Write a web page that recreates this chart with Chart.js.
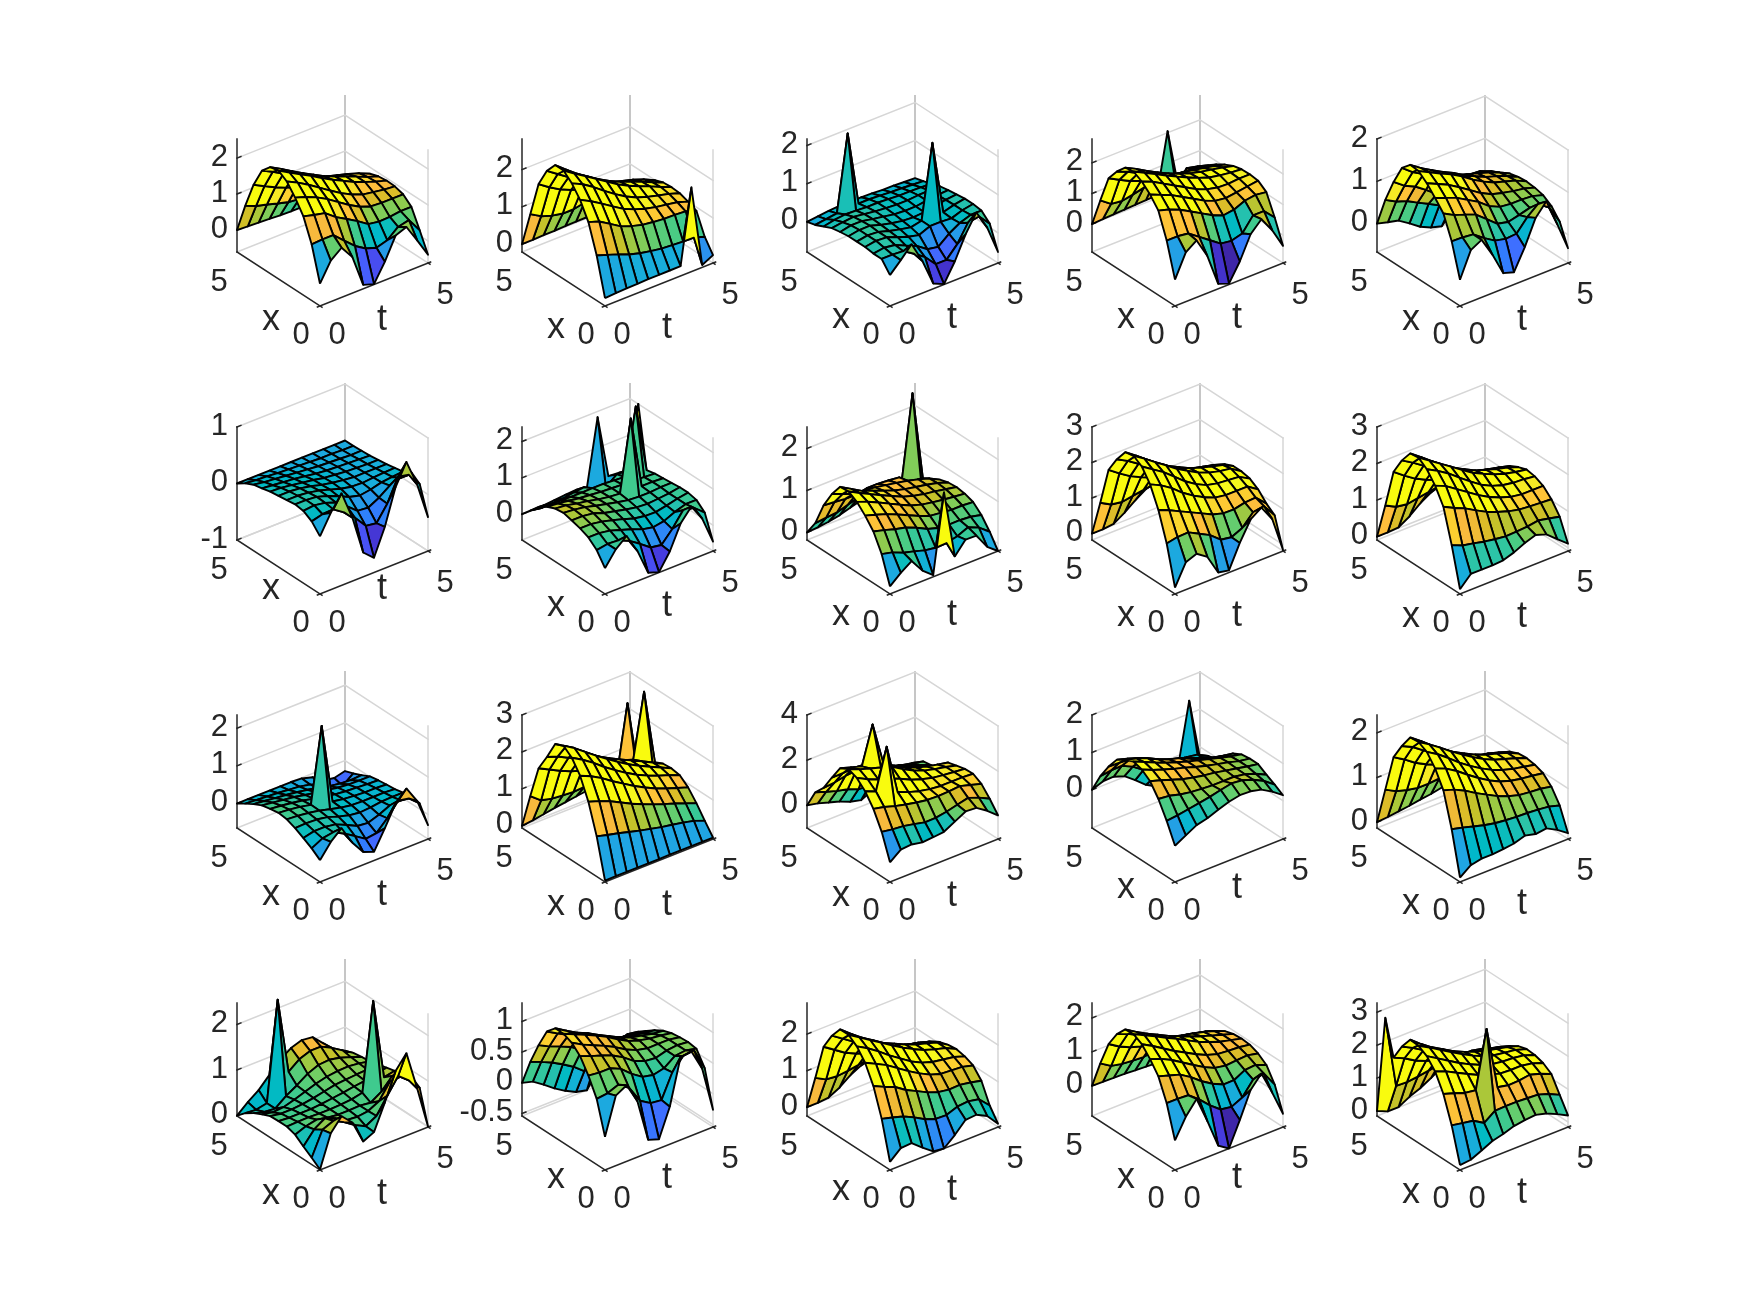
<!DOCTYPE html>
<html>
<head>
<meta charset="utf-8">
<title>Surface grid</title>
<script src="https://cdn.jsdelivr.net/npm/chart.js@4"></script>
<style>
  html, body { margin: 0; background: #fff; }
  #page { position: relative; width: 1750px; height: 1313px; overflow: hidden; }
  canvas { position: absolute; }
</style>
</head>
<body>
<div id="page"></div>
<script>
// grid axes
const xValues = [0, 0.5, 1, 1.5, 2, 2.5, 3, 3.5, 4, 4.5, 5]
const tValues = [0, 0.5, 1, 1.5, 2, 2.5, 3, 3.5, 4, 4.5, 5]

// surface heights, one row per x, one column per t
const z11 = [
  [.01,.53,.77,.39,-.5,-.6,-.1,.51,.63,.14,-.38],
  [.95,.97,.97,.7,.43,.24,.14,.23,.48,.55,.15],
  [1.58,1.5,1.43,1.2,1.03,.85,.65,.6,.61,.65,.65],
  [1.95,1.85,1.72,1.55,1.35,1.15,.98,.87,.85,.85,.85],
  [2.25,2.1,1.92,1.72,1.52,1.33,1.17,1.05,1,.95,.92],
  [2.4,2.23,2.06,1.9,1.72,1.55,1.4,1.25,1.13,1.02,.93],
  [2.35,2.18,2,1.82,1.66,1.5,1.37,1.25,1.13,1,.9],
  [2.1,1.95,1.78,1.6,1.45,1.32,1.22,1.14,1.05,.95,.82],
  [1.56,1.4,1.25,1.12,1.02,.95,.92,.9,.85,.77,.62],
  [.83,.7,.62,.53,.45,.42,.42,.42,.4,.32,.25],
  [0,-.02,-.03,-.05,-.07,-.08,-.08,-.06,-.05,-.03,-.02],
]
const z12 = [
  [0,.02,.03,.04,.05,.05,.05,.05,2.05,-.15,0],
  [1,.9,.8,.68,.6,.54,.49,.47,.45,.44,.35],
  [1.75,1.65,1.47,1.29,1.18,1.1,1.06,1.03,1.02,1,.9],
  [2.2,2.05,1.87,1.68,1.5,1.37,1.27,1.2,1.15,1.1,1],
  [2.5,2.36,2.17,1.95,1.75,1.57,1.43,1.33,1.25,1.18,1.08],
  [2.7,2.5,2.32,2.13,1.94,1.75,1.6,1.47,1.35,1.22,1.1],
  [2.7,2.46,2.24,2.05,1.86,1.7,1.56,1.45,1.33,1.2,1.08],
  [2.4,2.2,2,1.82,1.65,1.5,1.4,1.32,1.24,1.13,1],
  [1.9,1.7,1.53,1.4,1.29,1.2,1.14,1.1,1.05,.95,.82],
  [.95,.78,.68,.62,.62,.68,.72,.72,.65,.52,.38],
  [0,0,.01,.01,.02,.03,.03,.03,.02,.02,0],
]
const z13 = [
  [.02,.3,.6,.05,-.65,-.78,-.3,.3,.76,.25,-.5],
  [.3,.3,.28,.1,-.1,-.4,-.4,-.1,.35,.4,.1],
  [.3,.34,.3,.17,.05,-.15,-.2,.03,.2,.3,.3],
  [.33,.38,.36,.25,.15,.08,.2,.2,.18,.28,.33],
  [.33,.38,.36,.27,.2,.14,.2,2.13,.2,.28,.33],
  [.33,.38,.38,.29,.22,.17,.15,.17,.22,.27,.3],
  [.3,.36,.36,.3,.25,.2,.18,.18,.22,.25,.27],
  [.26,.3,.33,.29,.25,.22,.2,.2,.22,.23,.23],
  [.16,.22,.25,.24,.22,.22,.2,.18,.18,.17,.15],
  [.06,.1,.14,2.12,.17,.17,.15,.13,.12,.1,.08],
  [0,.03,.06,.08,.08,.08,.07,.05,.05,.03,.02],
]
const z14 = [
  [-.05,.7,.95,.3,-.75,-.88,-.3,.45,.8,.3,-.35],
  [1.05,1.05,1,.75,.5,.25,.2,.3,.75,.75,.4],
  [1.85,1.75,1.6,1.4,1.2,1,.85,.9,1.05,1.1,1.05],
  [2.2,2.05,1.9,1.7,1.5,1.3,1.15,1.1,1.15,1.2,1.25],
  [2.45,2.3,2.1,1.9,1.7,1.5,1.35,1.27,1.25,1.28,1.28],
  [2.6,2.42,2.24,2.05,1.87,1.7,1.55,1.42,1.35,1.3,1.27],
  [2.55,2.37,2.16,1.97,1.8,1.65,1.52,1.43,1.36,1.29,1.2],
  [2.25,2.1,1.92,1.74,1.58,1.45,1.37,1.3,1.24,1.16,1.07],
  [1.85,1.66,1.48,1.35,1.25,1.17,1.12,1.08,1.05,.98,.9],
  [.95,.7,.65,.72,.8,.87,.4,.45,.88,.8,.7],
  [0,.02,.04,.05,.07,.08,.1,2.05,.1,.06,.02],
]
const z15 = [
  [-.05,.55,.69,.24,-.3,-.38,.11,.7,.99,.35,-.32],
  [.73,.72,.69,.5,.34,.28,.3,.59,.8,.62,.18],
  [1.26,1.12,1.03,.93,.72,.51,.45,.51,.58,.55,.42],
  [1.5,1.4,1.3,1.15,1,.8,.68,.65,.65,.63,.55],
  [1.72,1.6,1.48,1.32,1.15,.98,.85,.78,.72,.68,.6],
  [1.88,1.75,1.62,1.5,1.35,1.17,1.02,.9,.82,.74,.62],
  [1.9,1.72,1.57,1.43,1.3,1.15,1.02,.9,.82,.72,.6],
  [1.7,1.5,1.35,1.22,1.12,1.02,.94,.86,.78,.68,.55],
  [1.24,1.05,.93,.75,.55,.55,.62,.7,.68,.58,.42],
  [.69,.55,.46,.32,.19,.05,-.12,.1,.25,.28,.22],
  [0,-.07,-.13,-.3,-.48,-.6,-.67,-.4,-.15,0,.05],
]
const z21 = [
  [.02,.36,.63,.12,-.57,-.74,-.27,.36,.73,.25,-.4],
  [.19,.24,.25,.12,-.05,-.27,-.3,-.03,.37,.33,.09],
  [.28,.3,.27,.2,.06,-.1,-.12,-.02,.12,.18,.2],
  [.3,.3,.28,.22,.14,.05,0,.03,.08,.1,.12],
  [.28,.28,.26,.22,.16,.1,.06,.05,.07,.08,.09],
  [.26,.26,.24,.2,.15,.11,.08,.06,.06,.06,.06],
  [.24,.23,.2,.17,.14,.1,.08,.06,.05,.04,.04],
  [.2,.18,.16,.14,.11,.08,.06,.05,.04,.03,.02],
  [.17,.14,.12,.1,.08,.06,.04,.03,.02,.01,.01],
  [.1,.08,.07,.05,.04,.03,.02,.01,.01,0,0],
  [0,0,0,0,0,0,0,0,0,0,0],
]
const z22 = [
  [0,.4,.65,.12,-.6,-.7,-.25,.4,.75,.3,-.45],
  [.35,.4,.38,.25,.05,-.17,-.22,.1,.5,.45,.2],
  [.55,.55,.5,.4,.3,.18,.12,.17,.3,.4,.4],
  [.65,.65,.6,.52,.43,.33,.28,.27,.33,.4,.45],
  [.72,.72,.68,.57,.5,.43,.37,.35,.37,.4,.45],
  [.78,.75,.7,.62,.55,.48,.42,.4,.4,.42,.42],
  [.75,.72,.65,.6,.53,.48,.45,2.4,.42,.42,.4],
  [.65,.62,.58,.53,.5,.47,.45,.43,.42,.4,.38],
  [.5,.45,.43,.42,.42,.42,.42,.4,.38,2.2,.33],
  [.25,.2,.2,.22,.27,.3,0,.05,.3,.28,2],
  [0,0,.01,.03,.06,.08,0,1.84,.1,.08,.05],
]
const z23 = [
  [0,.22,.4,.07,-.14,1.73,.1,.4,.39,.02,-.18],
  [.64,.58,.47,.4,.32,.28,.29,.35,.46,.35,.15],
  [1.05,.98,.9,.84,.73,.6,.52,.5,.5,.48,.42],
  [1.3,1.22,1.13,1.02,.9,.78,.68,.65,.62,.62,.6],
  [1.5,1.4,1.28,1.15,1.02,.9,.82,.77,.73,.7,.67],
  [1.62,1.48,1.35,1.22,1.1,.98,.9,.84,.8,.75,.7],
  [1.6,1.45,1.3,1.2,1.1,1,.93,.88,.83,.77,.68],
  [1.3,1.2,1.1,1.08,1.05,1,.95,.9,.83,.75,.62],
  [.9,.88,.85,.85,.9,.9,.88,.85,.62,.62,.5],
  [.35,.38,.4,.48,.55,.6,.6,.58,.52,2.52,.3],
  [0,.02,.05,.1,.18,.25,.3,.3,.27,.2,.1],
]
const z24 = [
  [0,.59,.71,.5,-.06,-.12,.53,1.07,1.28,.84,-.15],
  [1.09,1.15,1.16,1,.84,.59,.54,.68,1,1.05,.67],
  [1.88,1.75,1.6,1.45,1.3,1.15,1.06,1.05,1.12,1.14,.85],
  [2.45,2.3,2.1,1.85,1.65,1.48,1.35,1.3,1.3,1.3,1.1],
  [2.8,2.6,2.4,2.15,1.9,1.7,1.55,1.48,1.45,1.42,1.25],
  [2.95,2.75,2.53,2.32,2.1,1.92,1.75,1.63,1.55,1.5,1.3],
  [2.9,2.68,2.45,2.23,2.03,1.87,1.72,1.62,1.53,1.45,1.3],
  [2.55,2.38,2.18,1.98,1.8,1.63,1.52,1.44,1.37,1.3,1.2],
  [2.1,1.88,1.68,1.53,1.4,1.3,1.24,1.22,1.17,1.1,1],
  [1.02,.85,.8,.85,.9,.95,.98,1,.98,.9,.8],
  [0,0,.03,.22,.45,.65,.72,.75,.72,.68,.6],
]
const z25 = [
  [.04,.34,.34,.34,.36,.46,.6,.7,.6,.35,.11],
  [1.1,.97,.91,.84,.79,.75,.76,.78,.83,.77,.7],
  [2,1.85,1.72,1.55,1.39,1.27,1.17,1.1,1.07,1.05,1.03],
  [2.43,2.3,2.1,1.9,1.7,1.53,1.4,1.3,1.25,1.25,1.25],
  [2.73,2.57,2.38,2.15,1.93,1.72,1.57,1.47,1.42,1.4,1.36],
  [2.9,2.7,2.5,2.3,2.1,1.9,1.75,1.62,1.52,1.45,1.4],
  [2.87,2.65,2.42,2.2,2,1.85,1.7,1.6,1.5,1.42,1.32],
  [2.53,2.35,2.15,1.95,1.78,1.6,1.5,1.42,1.35,1.28,1.2],
  [2.07,1.85,1.65,1.5,1.38,1.28,1.22,1.2,1.15,1.08,1],
  [1,.85,.8,.85,.9,.95,.98,1,.98,.9,.82],
  [0,0,.02,.2,.44,.62,.72,.75,.72,.7,.65],
]
const z31 = [
  [-.07,.3,.55,.05,-.31,-.42,.09,.64,.92,.47,-.28],
  [.1,.25,.3,.15,-.03,-.22,-.18,.1,.45,.4,.15],
  [.23,.3,.3,.25,.12,-.02,-.05,.05,.18,.2,.22],
  [.35,.36,.35,.3,.2,.12,.08,.1,.14,.15,.15],
  [.44,.42,.38,.33,.25,.18,.13,.12,.12,.12,.1],
  [.47,.44,.4,.34,2.32,.2,.15,.12,.1,.1,.08],
  [.43,.4,.36,.31,.24,.18,.13,.1,.08,.06,.05],
  [.38,.34,.3,.26,.2,.15,.1,.05,.02,.01,.01],
  [.27,.24,.2,.17,.13,.08,.02,-.05,-.1,-.12,-.1],
  [.14,.12,.1,.08,.05,.02,-.04,-.15,-.35,-.42,-.2],
  [0,0,0,0,0,0,-.02,-.1,-.3,-.35,-.28],
]
const z32 = [
  [-.02,-.02,-.02,-.02,-.02,-.02,-.02,-.02,-.02,-.02,-.02],
  [1.03,.95,.88,.8,.72,.65,.58,.53,.47,.4,.29],
  [1.82,1.72,1.6,1.45,1.3,1.17,1.05,.94,.84,.73,.62],
  [2.38,2.25,2.08,1.88,1.7,1.52,1.36,1.22,1.1,1,.9],
  [2.72,2.55,2.35,2.12,1.92,1.73,1.56,1.42,1.3,1.2,1.08],
  [2.9,2.72,2.5,2.28,2.08,1.88,1.7,1.54,1.4,1.26,1.12],
  [2.8,2.62,2.42,2.2,2,1.83,1.68,1.54,1.4,1.25,1.1],
  [2.3,2.2,2.05,1.88,1.73,1.58,1.48,1.4,1.3,3.02,1],
  [1.85,1.7,1.55,1.42,1.32,1.24,1.18,1.12,1.05,.9,.72],
  [.95,.72,.65,.62,.6,.62,.62,.6,.55,2.42,.4],
  [0,.03,.08,.13,.17,.21,.25,.28,.3,.25,.18],
]
const z33 = [
  [-.13,.24,.28,.18,.22,.27,.53,.79,.76,.44,.05],
  [.98,.9,.85,.75,.64,.65,.73,.85,.96,.78,.54],
  [1.76,1.65,1.5,1.38,1.28,1.2,1.18,1.2,1.24,1.1,.96],
  [2.3,2.1,3.89,1.7,1.5,1.35,1.25,1.2,1.2,1.2,1.17],
  [2.65,2.4,2.2,2.05,1.85,1.62,1.45,1.32,1.25,1.2,1.15],
  [2.8,2.6,2.45,2.3,2.15,1.85,1.6,1.4,1.28,1.18,1.05],
  [2.6,2.45,2.3,3.97,2.05,1.76,1.5,1.3,1.15,1.05,.95],
  [1.95,1.95,2,1.95,1.75,1.5,1.3,1.1,.9,.65,.45],
  [1.25,1.3,1.4,1.45,1.4,1.2,1.05,.93,.75,.55,.35],
  [.82,.65,.5,.38,.2,.15,.4,.55,.5,.4,.28],
  [0,-.1,-.25,-.4,-.6,-.72,-.5,-.2,-.1,-.08,-.05],
]
const z34 = [
  [-.05,.11,.27,.34,.45,.55,.61,.6,.53,.36,.15],
  [.47,.5,.55,.6,.65,.72,.78,.75,.65,.5,.29],
  [.91,.88,.8,.75,.72,.7,.7,.7,.65,.55,.41],
  [1.24,1.15,1.05,.95,.88,.82,.78,.72,.66,.6,.55],
  [1.41,1.28,1.18,1.08,1,.9,.82,.75,.68,.6,.55],
  [1.48,1.35,1.22,1.1,1,.9,.82,.74,.66,.58,.52],
  [1.38,1.3,1.2,1.05,.93,.85,.72,.62,.52,.45,.4],
  [1.24,1.15,1.05,.9,.78,.68,.58,.46,.38,.26,.2],
  [.91,.9,.88,.72,.55,.45,.4,.34,.2,.05,-.05],
  [.51,.55,.56,.42,.22,-.1,-.05,0,.1,.05,-.1],
  [0,.11,.12,.02,-.2,-.44,-.6,-.4,-.25,1.35,-.3],
]
const z35 = [
  [-.03,.15,.2,.2,.22,.25,.33,.27,.3,.17,0],
  [.93,.87,.8,.73,.68,.65,.63,.62,.6,.57,.5],
  [1.68,1.6,1.48,1.33,1.2,1.07,.97,.9,.87,.85,.8],
  [2.05,1.95,1.8,1.62,1.45,1.3,1.18,1.1,1.05,1.02,.98],
  [2.3,2.15,1.97,1.77,1.6,1.45,1.32,1.22,1.15,1.1,1.05],
  [2.4,2.25,2.08,1.9,1.74,1.58,1.44,1.33,1.25,1.17,1.08],
  [2.38,2.2,2,1.83,1.67,1.54,1.42,1.32,1.25,1.17,1.06],
  [2.07,1.95,1.78,1.62,1.47,1.33,1.25,1.18,1.13,1.06,.98],
  [1.7,1.55,1.38,1.25,1.15,1.06,1,.98,.96,.89,.82],
  [.85,.72,.65,.6,.6,.62,.65,.65,.6,.5,.38],
  [0,.02,.05,.08,.12,.15,.2,.25,.25,.2,.12],
]
const z41 = [
  [0,.7,.98,.75,.24,.35,.9,1.5,1.8,.93,0],
  [.14,.66,.76,.64,.48,.36,.49,.84,1.18,.99,.73],
  [.27,.55,.7,.6,.47,.45,.48,.6,.93,.95,.86],
  [.41,.5,.55,.5,.47,.47,.48,.45,.6,.85,.85],
  [.47,.48,.48,.47,.47,.48,.5,.55,2.47,.7,.75],
  [.47,.45,.45,.45,.47,.5,.53,.57,.6,.65,.7],
  [.46,.42,.42,.44,.48,.53,.58,.6,.62,.63,.65],
  [.38,.33,.35,.42,.5,.58,.64,.67,.68,.65,.6],
  [.29,.22,.2,.38,.52,.68,.78,.8,.75,.67,.58],
  [.17,.15,.2,2.38,.7,.88,.97,.97,.85,.7,.55],
  [0,.2,.37,.61,.85,1.01,1.09,1.06,.83,.6,.48],
]
const z42 = [
  [0,.6,.7,.37,-.33,-.39,.07,.81,.83,.48,-.26],
  [.53,.55,.62,.5,.22,.11,.09,.47,.67,.69,.33],
  [.82,.8,.8,.72,.57,.45,.41,.45,.58,.6,.56],
  [1.05,.98,.92,.85,.75,.62,.55,.53,.58,.6,.58],
  [1.18,1.08,1,.92,.83,.72,.64,.6,.6,.6,.57],
  [1.24,1.16,1.08,1,.91,.8,.7,.64,.6,.58,.55],
  [1.24,1.13,1.03,.95,.85,.76,.67,.6,.56,.52,.5],
  [1.1,1,.9,.82,.72,.64,.58,.52,.48,.45,.42],
  [.79,.7,.63,.55,.43,.38,.38,.38,.38,.35,.32],
  [.43,.36,.28,.18,.07,-.07,-.02,.12,.2,.25,.22],
  [0,-.05,-.17,-.3,-.41,-.5,-.54,-.3,-.1,.02,.05],
]
const z43 = [
  [-.02,.24,.26,.02,-.2,-.24,.01,.31,.33,.18,-.15],
  [1.01,.93,.84,.7,.53,.42,.41,.52,.55,.49,.2],
  [1.76,1.62,1.5,1.3,1.15,1,.89,.84,.85,.8,.73],
  [2.25,2.1,1.95,1.75,1.55,1.37,1.22,1.12,1.1,1.08,1],
  [2.55,2.38,2.18,1.95,1.75,1.55,1.4,1.3,1.25,1.2,1.1],
  [2.72,2.53,2.34,2.15,1.96,1.78,1.62,1.48,1.38,1.3,1.15],
  [2.72,2.48,2.26,2.07,1.88,1.74,1.6,1.48,1.4,1.3,1.12],
  [2.4,2.2,2,1.82,1.66,1.5,1.41,1.33,1.27,1.18,1.05],
  [1.95,1.75,1.55,1.41,1.3,1.2,1.14,1.11,1.08,1,.9],
  [.95,.79,.76,.79,.84,.9,.92,.92,.9,.82,.63],
  [0,0,.03,.18,.4,.55,.62,.65,.62,.48,.28],
]
const z44 = [
  [-.02,.55,.95,.17,-.68,-.89,-.18,.58,.94,.25,-.5],
  [.92,.92,.9,.65,.35,.1,.05,.2,.6,.65,.2],
  [1.55,1.45,1.35,1.15,.9,.7,.55,.55,.72,.75,.62],
  [1.9,1.78,1.62,1.42,1.22,1.03,.88,.82,.85,.87,.8],
  [2.18,2,1.8,1.6,1.43,1.25,1.1,1,.97,.95,.9],
  [2.32,2.16,2,1.83,1.67,1.5,1.33,1.2,1.08,1,.92],
  [2.3,2.1,1.92,1.76,1.6,1.46,1.33,1.21,1.1,1,.9],
  [2,1.88,1.72,1.55,1.41,1.28,1.2,1.13,1.05,.95,.82],
  [1.55,1.35,1.2,1.1,1,.95,.92,.88,.85,.78,.66],
  [.82,.62,.55,.52,.5,.55,.62,.65,.65,.55,.42],
  [0,-.01,-.02,-.03,-.05,-.07,-.09,-.05,0,.03,.05],
]
const z45 = [
  [0,.03,.18,.34,.42,.53,.58,.61,.52,.37,.2],
  [1.04,.98,.92,.72,.96,.97,.97,.95,.93,.82,.66],
  [1.83,1.72,1.6,1.55,3.28,1.38,1.31,1.32,1.37,1.27,1.13],
  [2.35,2.22,2.05,1.88,1.72,1.6,1.5,1.48,1.48,1.42,1.3],
  [2.65,2.45,2.25,2.05,1.88,1.73,1.62,1.57,1.55,1.5,1.38],
  [2.8,2.62,2.42,2.22,2.03,1.85,1.7,1.6,1.55,1.5,1.4],
  [2.82,2.56,2.33,2.14,1.95,1.8,1.67,1.57,1.5,1.42,1.32],
  [2.45,2.28,2.08,1.89,1.72,1.55,1.47,1.4,1.34,1.26,1.16],
  [1.95,1.8,1.6,1.46,1.35,1.24,1.18,1.15,1.12,1.04,.96],
  [3,.8,.78,.82,.87,.93,.96,.96,.95,.88,.68],
  [0,-.14,-.14,.04,.17,.35,.55,.65,.6,.43,.22],
]

const surfaces = [z11, z12, z13, z14, z15, z21, z22, z23, z24, z25, z31, z32, z33, z34, z35, z41, z42, z43, z44, z45]

// z axis limits and tick labels of each panel
const zLimits = [
  [-.61, 2.53], [-.21, 2.82], [-.79, 2.17], [-.91, 2.78], [-.67, 2],
  [-1, 1], [-.71, 2.4], [-.18, 2.51], [-.18, 3], [-.09, 3],
  [-.65, 2.35], [-.06, 3], [-1, 4], [-1.02, 2], [-.13, 2.4],
  [-.01, 2.47], [-.54, 1.3], [-.24, 2.85], [-.89, 2.44], [-.15, 3.28],
]
const zTicks = [
  [0, 1, 2], [0, 1, 2], [0, 1, 2], [0, 1, 2], [0, 1, 2],
  [-1, 0, 1], [0, 1, 2], [0, 1, 2], [0, 1, 2, 3], [0, 1, 2, 3],
  [0, 1, 2], [0, 1, 2, 3], [0, 2, 4], [0, 1, 2], [0, 1, 2],
  [0, 1, 2], [-0.5, 0, 0.5, 1], [0, 1, 2], [0, 1, 2], [0, 1, 2, 3],
]
const xTickLabels = ["0", "5"]
const tTickLabels = ["0", "5"]

// shared color limits, every panel uses the same ones
const colorLimits = [-0.87, 1.35]

// parula(64)
const parula = [[.2422,.1504,.6603],[.2504,.165,.7076],[.2578,.1818,.7511],[.2647,.1978,.7952],[.2706,.2147,.8364],[.2751,.2342,.871],[.2783,.2559,.8991],[.2803,.2782,.9221],[.2813,.3006,.9414],[.281,.3228,.9579],[.2795,.3447,.9717],[.276,.3667,.9829],[.2699,.3892,.9906],[.2602,.4123,.9952],[.244,.4358,.9988],[.2206,.4603,.9973],[.1963,.4847,.9892],[.1834,.5074,.9798],[.1786,.5289,.9682],[.1764,.5499,.952],[.1687,.5703,.9359],[.154,.5902,.9218],[.146,.6091,.9079],[.138,.6276,.8973],[.1248,.6459,.8883],[.1113,.6635,.8763],[.0952,.6798,.8598],[.0689,.6948,.8394],[.0297,.7082,.8163],[.0036,.7203,.7917],[.0067,.7312,.766],[.0433,.7411,.7394],[.0964,.75,.712],[.1408,.7584,.6842],[.1717,.767,.6554],[.1938,.7758,.6251],[.2161,.7843,.5923],[.247,.7918,.5567],[.2906,.7973,.5188],[.3406,.8008,.4789],[.3909,.8029,.4354],[.4456,.8024,.3909],[.5044,.7993,.348],[.5616,.7942,.3045],[.6174,.7876,.2612],[.672,.7793,.2227],[.7242,.7698,.191],[.7738,.7598,.1646],[.8203,.7498,.1535],[.8634,.7406,.1596],[.9035,.733,.1774],[.9393,.7288,.21],[.9728,.7298,.2394],[.9956,.7434,.2371],[.997,.7659,.2199],[.9952,.7893,.2028],[.9892,.8136,.1885],[.9814,.838,.1751],[.974,.8637,.1636],[.9668,.8899,.1547],[.9638,.9182,.1465],[.9613,.947,.1329],[.963,.9758,.1133],[.9763,.9831,.0538]]

// how far the x and t labels sit below the front corner, per panel
const labelDrop = [14, 22, 12, 12, 14, -5, 12, 21, 22, 23, 13, 23, 14, 6, 22, 24, 8, 20, 8, 23]

// view of the box: screen vectors of the t and x axes and the height of z
const tVec = [108, -43]
const xVec = [-83, -54]
const boxHeight = 113
const colStep = 285
const rowStep = 288

// chart area in view units, the front floor corner is 0,0
const viewX = [-150, 170]
const viewY = [-70, 240]

function faceColor(z) {
  const f = Math.min(1, Math.max(0, (z - colorLimits[0]) / (colorLimits[1] - colorLimits[0])))
  const c = parula[Math.round(f * (parula.length - 1))]
  return `rgb(${Math.round(c[0] * 255)}, ${Math.round(c[1] * 255)}, ${Math.round(c[2] * 255)})`
}

function project(x, t, z, lim) {
  return {
    x: (t / 5) * tVec[0] + (x / 5) * xVec[0],
    y: -(t / 5) * tVec[1] - (x / 5) * xVec[1] + ((z - lim[0]) / (lim[1] - lim[0])) * boxHeight,
  }
}

function lineSet(points, color, width) {
  return {
    data: points,
    showLine: true,
    fill: false,
    pointRadius: 0,
    borderColor: color,
    borderWidth: width,
    borderCapStyle: "square",
    tension: 0,
    clip: false,
  }
}

function buildDatasets(p) {
  const z = surfaces[p]
  const lim = zLimits[p]
  const sets = []

  // faces, front first: chart.js paints the last dataset first
  for (let i = 0; i < xValues.length - 1; i++) {
    for (let j = 0; j < tValues.length - 1; j++) {
      const pts = [
        project(xValues[i], tValues[j], z[i][j], lim),
        project(xValues[i], tValues[j + 1], z[i][j + 1], lim),
        project(xValues[i + 1], tValues[j + 1], z[i + 1][j + 1], lim),
        project(xValues[i + 1], tValues[j], z[i + 1][j], lim),
      ]
      pts.push(pts[0])
      sets.push({
        data: pts,
        showLine: true,
        fill: "shape",
        pointRadius: 0,
        backgroundColor: faceColor(z[i][j]),
        borderColor: "#000",
        borderWidth: 1.9,
        borderJoinStyle: "round",
        tension: 0,
        clip: false,
      })
    }
  }

  // rulers
  const dark = "#262626"
  sets.push(lineSet([project(5, 0, lim[0], lim), project(5, 0, lim[1], lim)], dark, 1.5))
  sets.push(lineSet([project(5, 0, lim[0], lim), project(-0.12, 0, lim[0], lim)], dark, 1.5))
  sets.push(lineSet([project(0, -0.12, lim[0], lim), project(0, 5.12, lim[0], lim)], dark, 1.5))
  sets.push(lineSet([project(0, 5, lim[0], lim), project(-0.12, 5, lim[0], lim)], dark, 1.5))
  zTicks[p].forEach((v) => {
    sets.push(lineSet([project(5, 0, v, lim), project(5, 0.18, v, lim)], dark, 1.5))
  })

  // box grid on the back walls
  const grid = "#d6d6d6"
  zTicks[p].concat([lim[0]]).forEach((v) => {
    sets.push(lineSet([project(5, 0, v, lim), project(5, 5, v, lim), project(0, 5, v, lim)], grid, 1.5))
  })
  sets.push(lineSet([project(5, 5, lim[0], lim), project(5, 5, lim[1], lim)], "#c6c6c6", 2))
  sets.push(lineSet([project(0, 5, lim[0], lim), project(0, 5, lim[1], lim)], grid, 1.5))
  return sets
}

// tick and axis labels, placed from the scales
const labelPlugin = {
  id: "panelLabels",
  afterDraw(chart, args, opts) {
    const p = opts.panel
    const lim = zLimits[p]
    const sx = chart.scales.x
    const sy = chart.scales.y
    const ctx = chart.ctx
    const put = (text, pos, dx, dy, font, align) => {
      ctx.font = font
      ctx.textAlign = align
      ctx.textBaseline = "middle"
      ctx.fillStyle = "#262626"
      ctx.fillText(text, sx.getPixelForValue(pos.x) + dx, sy.getPixelForValue(pos.y) + dy)
    }
    const tickFont = "31px 'Liberation Sans', Arial, sans-serif"
    const axisFont = "36px 'Liberation Sans', Arial, sans-serif"
    zTicks[p].forEach((v) => {
      put(String(v), project(5, 0, v, lim), -9, -1, tickFont, "right")
    })
    const low = lim[0]
    put(xTickLabels[1], project(5, 0, low, lim), -18, 30, tickFont, "center")
    put(xTickLabels[0], project(0, 0, low, lim), -19, 29, tickFont, "center")
    put(tTickLabels[0], project(0, 0, low, lim), 17, 29, tickFont, "center")
    put(tTickLabels[1], project(0, 5, low, lim), 17, 32, tickFont, "center")
    put("x", project(0, 0, low, lim), -49, labelDrop[p], axisFont, "center")
    put("t", project(0, 0, low, lim), 62, labelDrop[p], axisFont, "center")
  },
}

const page = document.getElementById("page")
surfaces.forEach((z, p) => {
  const col = p % 5
  const row = Math.floor(p / 5)
  const canvas = document.createElement("canvas")
  canvas.width = viewX[1] - viewX[0]
  canvas.height = viewY[1] - viewY[0]
  canvas.style.left = 320 + col * colStep + viewX[0] + "px"
  canvas.style.top = 306 + row * rowStep - viewY[1] + "px"
  page.appendChild(canvas)

  new Chart(canvas, {
    type: "scatter",
    data: { datasets: buildDatasets(p) },
    plugins: [labelPlugin],
    options: {
      responsive: false,
      animation: false,
      layout: { padding: 0 },
      plugins: {
        legend: { display: false },
        tooltip: { enabled: false },
        panelLabels: { panel: p },
      },
      scales: {
        x: { type: "linear", display: false, min: viewX[0], max: viewX[1] },
        y: { type: "linear", display: false, min: viewY[0], max: viewY[1] },
      },
    },
  })
})
</script>
</body>
</html>
